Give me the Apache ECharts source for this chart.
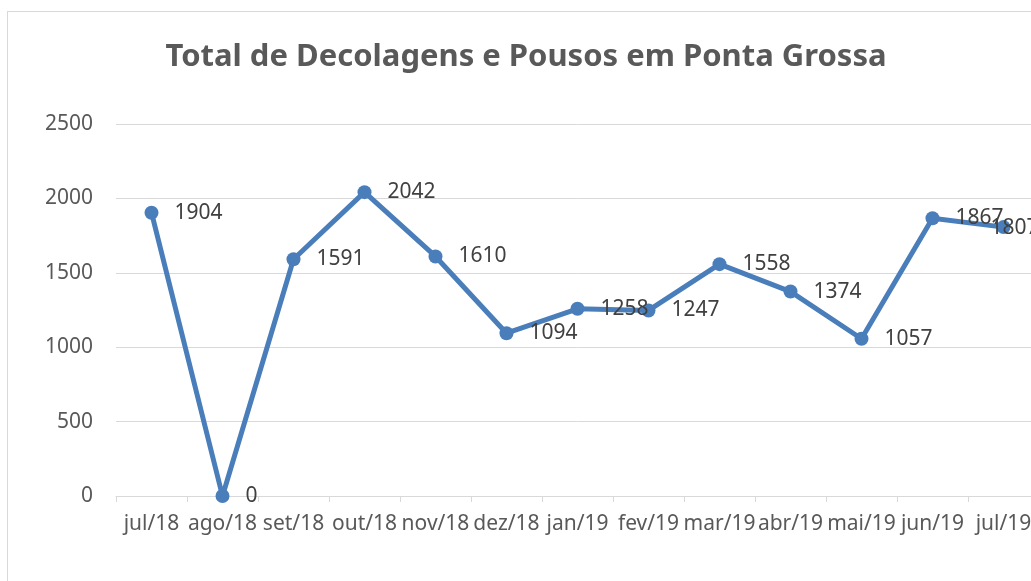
<html lang="pt">
<head>
  <meta charset="UTF-8">
  <title>Total de Decolagens e Pousos em Ponta Grossa</title>
  <style>
    *{
      margin: 0;
      padding: 0;
    }
    body{
      width: 1031px;
      height: 581px;
      overflow: hidden;
      position: relative;
      background: #fff;
    }
    #frame{
      position: absolute;
      left: 7px;
      top: 11px;
      width: 1100px;
      height: 700px;
      border: 1px solid #d9d9d9;
    }
    #main{
      position: absolute;
      left: 0;
      top: 0;
      width: 1052px;
      height: 581px;
    }
  </style>
</head>
<body>
  <div id="frame"></div>
  <div id="main"></div>

  <script src="https://cdn.jsdelivr.net/npm/echarts@6/dist/echarts.min.js"></script>
  <script type="text/javascript">
  // meses (eixo x)
  var meses = ['jul/18', 'ago/18', 'set/18', 'out/18', 'nov/18', 'dez/18', 'jan/19',
               'fev/19', 'mar/19', 'abr/19', 'mai/19', 'jun/19', 'jul/19']
  // total de decolagens e pousos
  var totais = [1904, 0, 1591, 2042, 1610, 1094, 1258, 1247, 1558, 1374, 1057, 1867, 1807]
  // eixo y
  var yMin = 0
  var yMax = 2500
  var yPasso = 500

  var fonte = '"Noto Sans", "Open Sans", sans-serif'

  // o ultimo rotulo fica encostado na borda, puxa pra esquerda
  var dados = totais.map(function (v, i) {
    if (i === totais.length - 1) {
      return {
        value: v,
        label: { position: [-6, 8], align: 'left', verticalAlign: 'middle' }
      }
    }
    return v
  })

  var myChart = echarts.init(document.getElementById('main'))
  var option = {
    animation: false,
    title: {
      text: 'Total de Decolagens e Pousos em Ponta Grossa',
      left: 'center',
      top: 37,
      textStyle: {
        fontFamily: fonte,
        fontSize: 31,
        fontWeight: 'bold',
        color: '#595959'
      }
    },
    grid: {
      left: 116,
      top: 124,
      width: 923,
      height: 372
    },
    xAxis: {
      type: 'category',
      data: meses,
      boundaryGap: true,
      axisLine: { lineStyle: { color: '#d9d9d9', width: 1 } },
      axisTick: { show: true, length: 6, lineStyle: { color: '#d9d9d9' } },
      axisLabel: {
        interval: 0,
        margin: 18,
        color: '#595959',
        fontFamily: fonte,
        fontSize: 21
      }
    },
    yAxis: {
      type: 'value',
      min: yMin,
      max: yMax,
      interval: yPasso,
      axisLine: { show: false },
      axisTick: { show: false },
      splitLine: { lineStyle: { color: '#d9d9d9', width: 1 } },
      axisLabel: {
        margin: 23,
        color: '#595959',
        fontFamily: fonte,
        fontSize: 21,
        formatter: function (v) { return String(v) }
      }
    },
    series: [{
      type: 'line',
      data: dados,
      symbol: 'circle',
      symbolSize: 14,
      lineStyle: { color: '#4a7ebb', width: 5 },
      itemStyle: { color: '#4a7ebb' },
      label: {
        show: true,
        position: 'right',
        distance: 16,
        offset: [0, 1],
        color: '#404040',
        fontFamily: fonte,
        fontSize: 21
      },
      labelLayout: { hideOverlap: false }
    }]
  }
  myChart.setOption(option)
  </script>
</body>
</html>
